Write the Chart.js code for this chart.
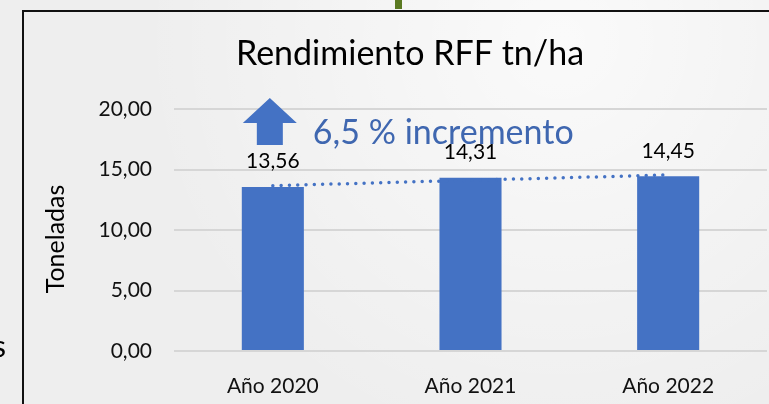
<!DOCTYPE html>
<html>
<head>
<meta charset="utf-8">
<script src="https://cdn.jsdelivr.net/npm/chart.js@4.4.0/dist/chart.umd.min.js"></script>
<style>
  html, body { margin: 0; padding: 0; background: #efefef; }
  #wrap { width: 769px; height: 404px; position: relative; }
</style>
</head>
<body>
<div id="wrap"><canvas id="c" width="769" height="404"></canvas></div>
<script>
// ---- data ----
const categories = ["Año 2020", "Año 2021", "Año 2022"];
const rendimiento = [13.56, 14.31, 14.45];
const tendencia = [13.66, 14.11, 14.55];   // dotted linear trend
const yTicks = [0, 5, 10, 15, 20];
const titleText = "Rendimiento RFF tn/ha";
const yTitleText = "Toneladas";
const noteText = "6,5 % incremento";

const FONT = "Lato, 'Open Sans', sans-serif";
const BLUE = "#4472C4";
const fmt = v => v.toFixed(2).replace('.', ',');

const backgroundPlugin = {
  id: 'bg',
  beforeDraw(chart) {
    const ctx = chart.ctx, W = chart.width, H = chart.height;
    ctx.save();
    ctx.fillStyle = '#eeeeee';
    ctx.fillRect(0, 0, W, H);
    let g = ctx.createRadialGradient(560, 40, 10, 560, 40, 420);
    g.addColorStop(0, 'rgba(255,255,255,0.7)');
    g.addColorStop(1, 'rgba(255,255,255,0)');
    ctx.fillStyle = g;
    ctx.fillRect(0, 0, W, H);
    // green fragment above the frame
    ctx.fillStyle = '#5b7a22';
    ctx.fillRect(395, 0, 7, 9);
    // cut-off letter at the far left
    ctx.fillStyle = '#000';
    ctx.font = "30px " + FONT;
    ctx.textAlign = 'right';
    ctx.textBaseline = 'alphabetic';
    ctx.fillText('s', 6, 357);
    // frame
    ctx.fillStyle = '#111';
    ctx.fillRect(22, 10, W - 22, 2);
    ctx.fillRect(22, 10, 2, H - 10);
    // chart title
    ctx.fillStyle = '#000';
    ctx.font = "34px " + FONT;
    ctx.textAlign = 'center';
    ctx.fillText(titleText, 410, 65);
    ctx.restore();
  }
};

const overlayPlugin = {
  id: 'overlay',
  afterDatasetsDraw(chart) {
    const ctx = chart.ctx;
    const xs = chart.scales.x, ys = chart.scales.y;
    ctx.save();
    // data labels
    const meta = chart.getDatasetMeta(0);
    ctx.fillStyle = '#000';
    ctx.font = "21px " + FONT;
    ctx.textAlign = 'center';
    ctx.textBaseline = 'alphabetic';
    meta.data.forEach((bar, i) => {
      ctx.fillText(fmt(rendimiento[i]), bar.x, bar.y - 18.5);
    });
    // y-axis title
    ctx.save();
    ctx.translate(64, (ys.top + ys.bottom) / 2 + 9);
    ctx.rotate(-Math.PI / 2);
    ctx.font = "25px " + FONT;
    ctx.textAlign = 'center';
    ctx.textBaseline = 'alphabetic';
    ctx.fillText(yTitleText, 0, 0);
    ctx.restore();
    // arrow annotation
    const cx = xs.getPixelForValue(0) - 3;
    const tip = ys.getPixelForValue(20.9);
    ctx.fillStyle = BLUE;
    ctx.beginPath();
    ctx.moveTo(cx, tip);
    ctx.lineTo(cx + 27, tip + 25);
    ctx.lineTo(cx + 13, tip + 25);
    ctx.lineTo(cx + 13, tip + 47);
    ctx.lineTo(cx - 13, tip + 47);
    ctx.lineTo(cx - 13, tip + 25);
    ctx.lineTo(cx - 27, tip + 25);
    ctx.closePath();
    ctx.fill();
    ctx.fillStyle = '#3f67b0';
    ctx.font = "34px " + FONT;
    ctx.textAlign = 'left';
    ctx.fillText(noteText, cx + 43, ys.getPixelForValue(17.1));
    ctx.restore();
  }
};

new Chart(document.getElementById('c'), {
  data: {
    labels: categories,
    datasets: [
      {
        type: 'bar',
        data: rendimiento,
        backgroundColor: BLUE,
        borderWidth: 0,
        categoryPercentage: 1,
        barPercentage: 0.314,
        order: 2
      },
      {
        type: 'line',
        data: tendencia,
        borderColor: BLUE,
        borderWidth: 3.5,
        borderDash: [0, 8.3],
        borderCapStyle: 'round',
        pointRadius: 0,
        fill: false,
        tension: 0,
        order: 1
      }
    ]
  },
  options: {
    responsive: false,
    animation: false,
    devicePixelRatio: 1,
    layout: { padding: { left: 0, right: 2, top: 109, bottom: 0 } },
    plugins: {
      legend: { display: false },
      tooltip: { enabled: false },
      title: { display: false }
    },
    scales: {
      x: {
        grid: { display: false },
        border: { display: false },
        ticks: { color: '#111', font: { family: FONT, size: 21 }, padding: 15 },
        afterFit(s) { s.height = 53; }
      },
      y: {
        min: 0, max: 20,
        afterBuildTicks(s) { s.ticks = yTicks.map(v => ({ value: v })); },
        ticks: {
          color: '#111',
          font: { family: FONT, size: 21 },
          padding: 22,
          callback: v => fmt(v)
        },
        grid: { color: '#d6d6d6', lineWidth: 2, drawTicks: false },
        border: { display: false },
        afterFit(s) { s.width = 174; }
      }
    }
  },
  plugins: [backgroundPlugin, overlayPlugin]
});
</script>
</body>
</html>
